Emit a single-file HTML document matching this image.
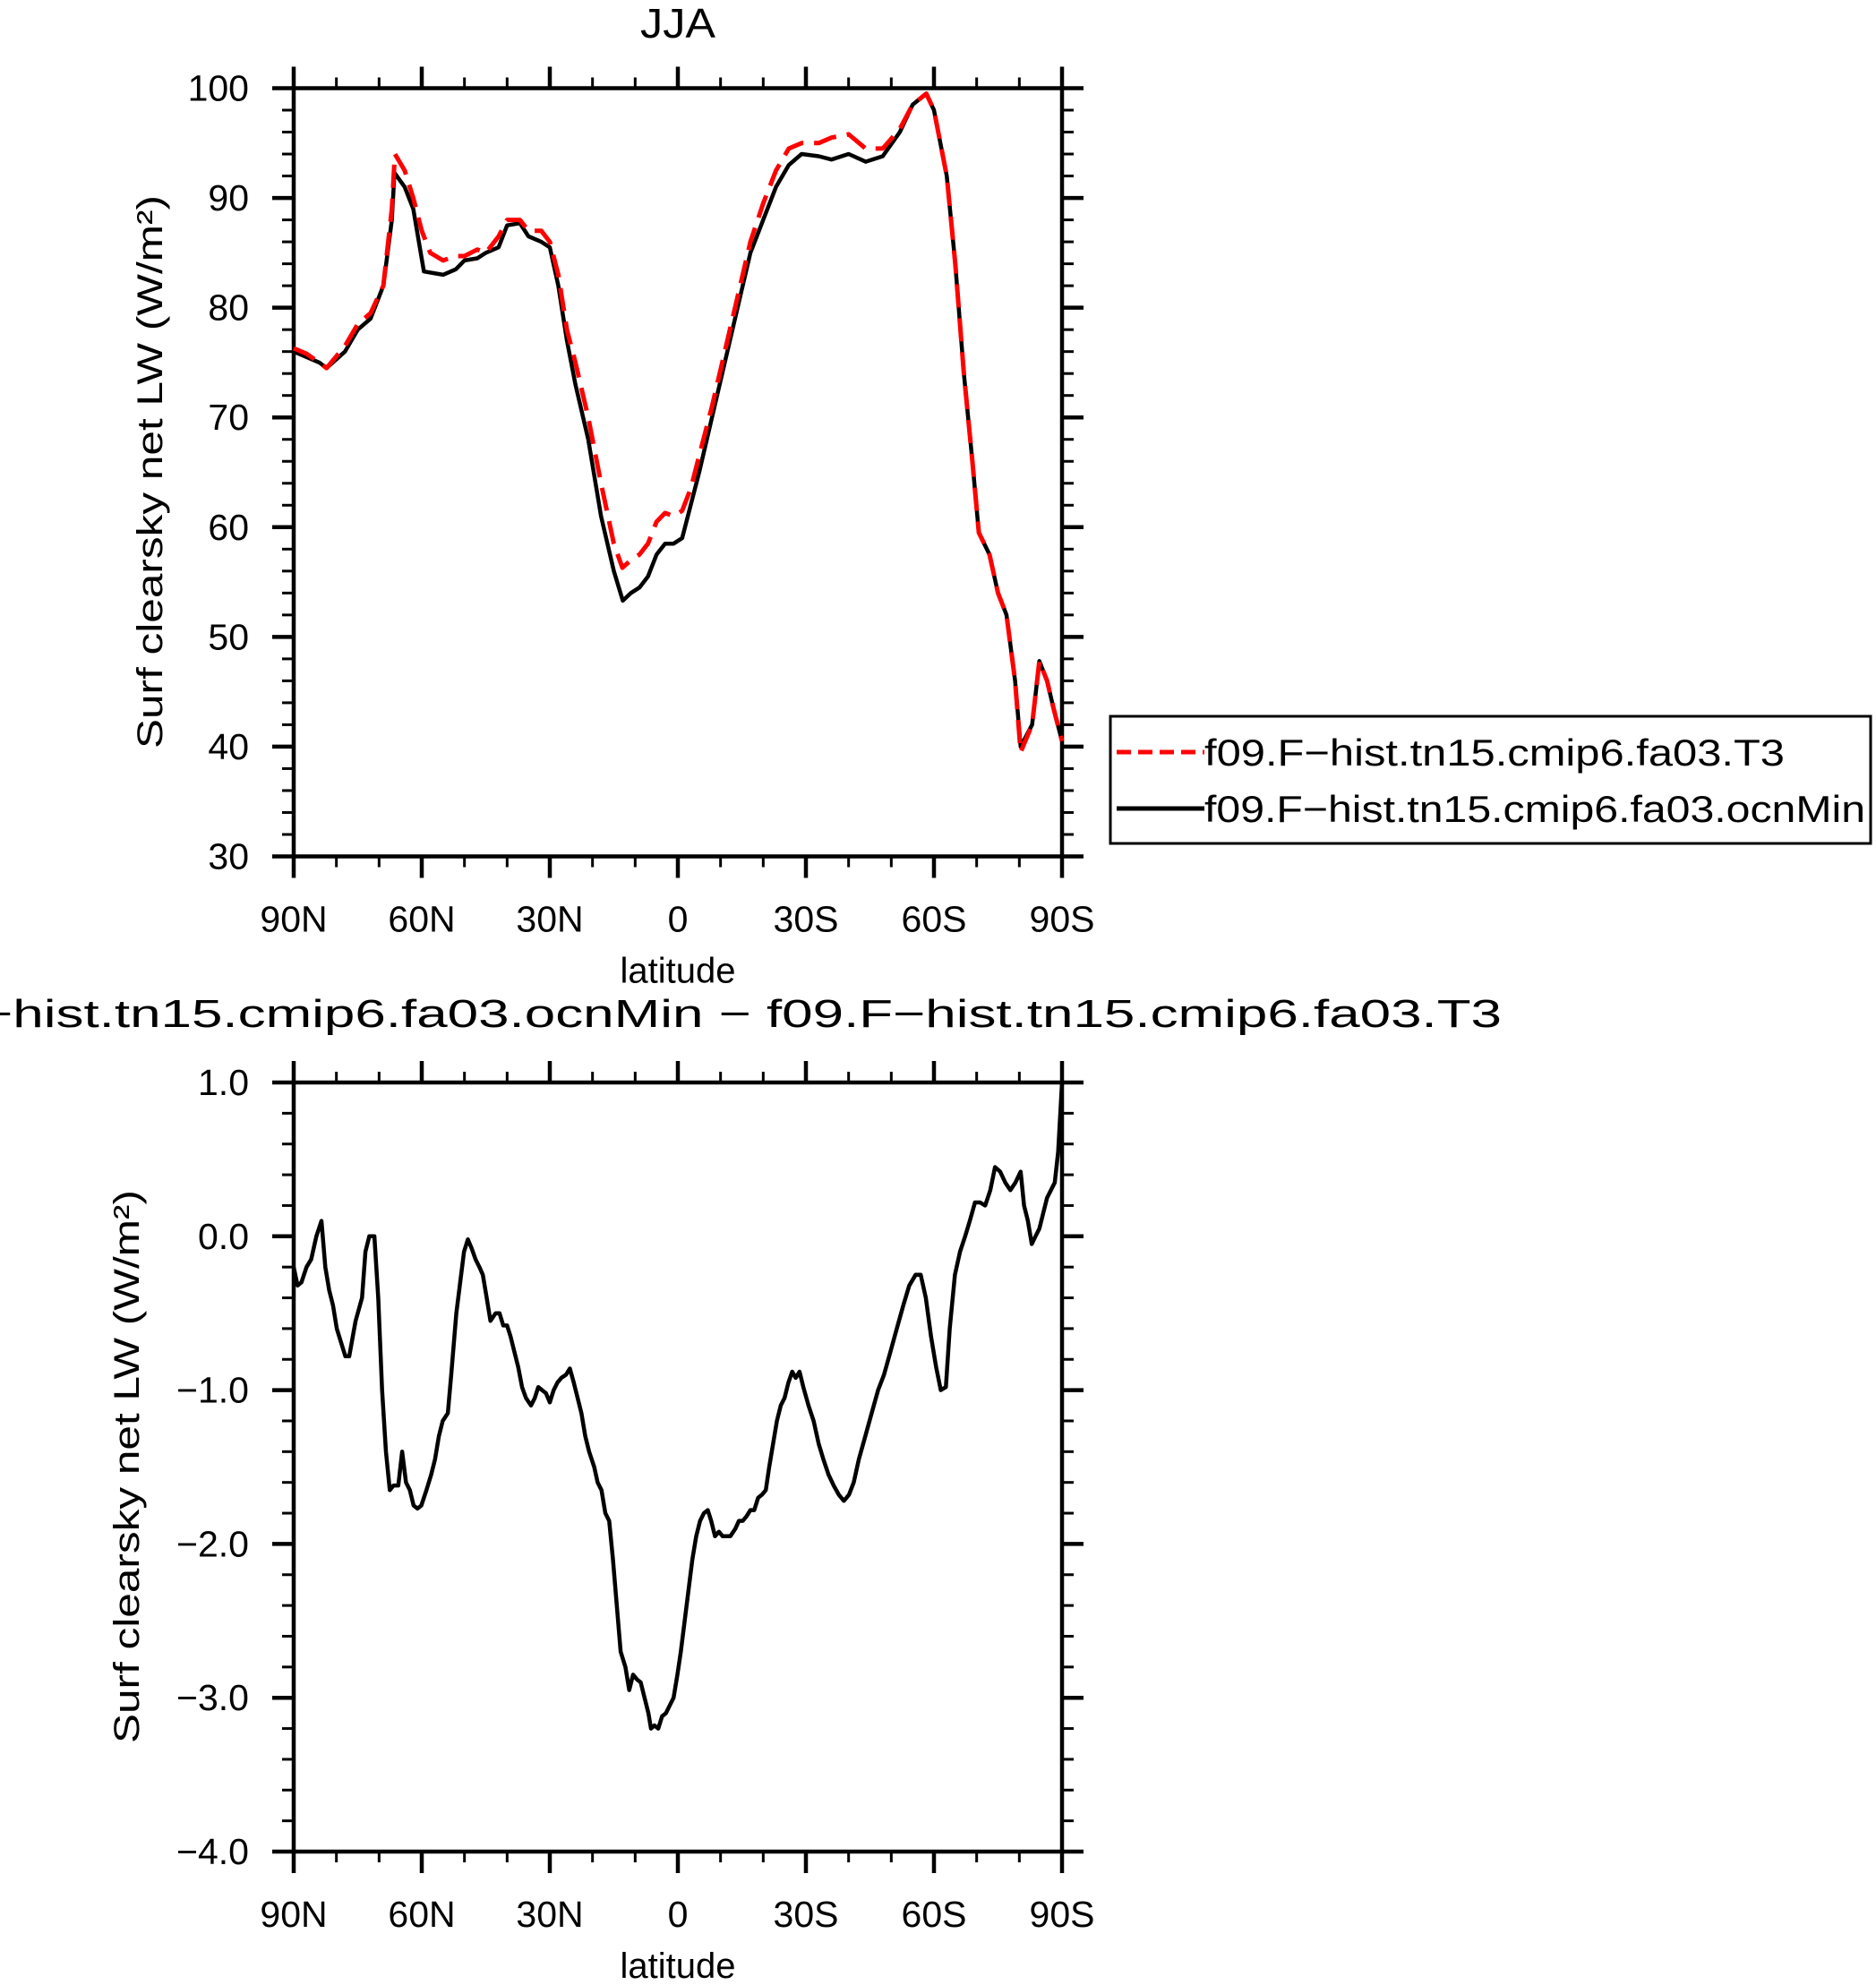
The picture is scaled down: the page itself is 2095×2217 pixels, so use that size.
<!DOCTYPE html>
<html><head><meta charset="utf-8"><style>
html,body{margin:0;padding:0;background:#fff;}
svg text{font-family:"Liberation Sans",sans-serif;fill:#000;}
</style></head><body>
<svg id="chart" width="2095" height="2212" viewBox="0 0 2095 2212" xmlns="http://www.w3.org/2000/svg">
<g id="top"></g>
<g id="bot"></g>
</svg>
<script>
// ---- data ----
const latsBlack = [90,87,84,82.3,78,75,72,69,67,66.4,64,62,59.5,55,52,50,47,45,42,40,37,35,32,30,28,26,24,21,18,15,12.9,11,9,7,5,3,1,-1,-3,-5,-8,-11,-14,-17,-20,-23,-26,-29,-33,-36,-40,-44,-48,-52,-55,-58.2,-60,-63,-65,-67,-69,-70.5,-73,-75,-77,-79,-80.3,-83,-84.7,-86.5,-88,-90];
const valsBlack = [76,75.5,75,74.5,76,78,79,82,88,92.3,91,89,83.3,83,83.5,84.3,84.5,85,85.5,87.5,87.7,86.5,86,85.5,82,77,73,68,61,56,53.3,54,54.5,55.5,57.5,58.5,58.5,59,62,65,70,75,80,85,88,91,93,94,93.8,93.5,94,93.3,93.8,96,98.5,99.5,98,92,84,74,66,59.5,57.5,54,52,46,40,42,47.8,46,43.5,40.5];
const latsRed = [90,87,84,82.3,78,75,72,69,67,66.3,64,62,60,58,55,52,50,47,45,42,40,37,35,32,30,28,26,24,21,18,15,13,11,9,7,5,3,1,-1,-3,-5,-8,-11,-14,-17,-20,-23,-26,-29,-33,-36,-40,-44,-48,-52,-55,-58.2,-60,-63,-65,-67,-69,-70.5,-73,-75,-77,-79,-80.3,-83,-84.7,-86.5,-88,-90];
const valsRed = [76.3,75.8,75,74.5,76.5,78.5,79.5,82,89,94,92.5,90,87,85,84.3,84.7,84.7,85.3,85,86.5,88,88,87,87,86,83,78,75,70,64,58.5,56.3,57,57.5,58.5,60.5,61.3,61,61.5,63.5,66.5,71,76,81,86,89.5,92.5,94.5,95,95,95.5,95.8,94.5,94.5,96.3,98.5,99.5,98,92,84,74,66,59.5,57.5,54,52,46,39.5,42,47.8,46,43.5,40.5];
const latsDiff = [90,89.1,88.2,87,85.9,84.7,83.5,82.6,81.7,80.8,79.9,78.8,77.9,77,75.5,74,73.2,72.3,71.1,70.2,69.3,68.4,67.5,66.6,65.5,64.6,63.7,62.8,61.9,61,60.1,58.9,57.8,56.9,56,55.1,53.9,53.1,51.9,51,50.1,49.2,48.3,47.4,46.5,45.7,44.8,43.9,42.7,41.8,40.9,40,39.2,38.3,37.4,36.5,35.6,34.4,33.5,32.7,31.8,30.9,30,29.1,28.2,27.3,26.2,25.3,24.4,23.5,22.6,21.7,20.8,19.6,18.8,17.9,17,16.1,15.2,14.3,13.4,12.3,11.4,10.5,9.6,8.7,7.8,6.9,6.3,5.5,4.6,3.7,2.8,1.9,1,0.1,-0.7,-1.6,-2.5,-3.4,-4.3,-5.2,-6.1,-7,-7.8,-8.7,-9.6,-10.5,-11.4,-12.3,-13.5,-14.3,-15.2,-16.1,-17,-17.9,-18.8,-19.7,-20.6,-21.4,-22.3,-23.2,-24.1,-25,-25.9,-26.8,-27.6,-28.5,-29.4,-30.6,-31.8,-33,-34.1,-35.3,-36.5,-37.7,-38.9,-40.1,-41.2,-42.4,-43.9,-45.4,-46.9,-48.3,-49.8,-51.3,-52.8,-54.2,-55.7,-56.9,-58.1,-59.3,-60.5,-61.6,-62.8,-63.7,-64.9,-66.1,-67.3,-68.4,-69.6,-70.8,-72,-73.2,-74.3,-75.5,-76.7,-77.9,-79.1,-80.3,-81.1,-82,-82.9,-83.8,-84.7,-85.6,-86.5,-87.4,-88.3,-89.1,-90];
const valsDiff = [-0.2,-0.32,-0.3,-0.2,-0.15,0,0.1,-0.2,-0.35,-0.45,-0.6,-0.7,-0.78,-0.78,-0.55,-0.4,-0.1,0,0,-0.4,-1,-1.4,-1.65,-1.62,-1.62,-1.4,-1.6,-1.65,-1.75,-1.77,-1.75,-1.65,-1.55,-1.45,-1.3,-1.2,-1.15,-0.9,-0.5,-0.3,-0.1,-0.02,-0.08,-0.15,-0.2,-0.25,-0.4,-0.55,-0.5,-0.5,-0.58,-0.58,-0.65,-0.75,-0.85,-0.98,-1.05,-1.1,-1.05,-0.98,-1,-1.02,-1.08,-1,-0.95,-0.92,-0.9,-0.86,-0.95,-1.05,-1.15,-1.3,-1.4,-1.5,-1.6,-1.65,-1.8,-1.85,-2.1,-2.4,-2.7,-2.8,-2.95,-2.85,-2.88,-2.9,-3,-3.1,-3.2,-3.18,-3.2,-3.12,-3.1,-3.05,-3,-2.85,-2.7,-2.5,-2.3,-2.1,-1.95,-1.85,-1.8,-1.78,-1.85,-1.95,-1.92,-1.95,-1.95,-1.95,-1.9,-1.85,-1.85,-1.82,-1.78,-1.78,-1.7,-1.68,-1.65,-1.5,-1.35,-1.2,-1.1,-1.05,-0.95,-0.88,-0.92,-0.88,-0.98,-1.1,-1.2,-1.35,-1.45,-1.55,-1.62,-1.68,-1.72,-1.68,-1.6,-1.45,-1.3,-1.15,-1,-0.9,-0.75,-0.6,-0.45,-0.32,-0.25,-0.25,-0.4,-0.65,-0.85,-1,-0.98,-0.6,-0.25,-0.1,0,0.1,0.22,0.22,0.2,0.3,0.45,0.42,0.35,0.3,0.35,0.42,0.2,0.1,-0.05,0,0.05,0.15,0.25,0.3,0.35,0.55,1];
const xTickLats = [90,60,30,0,-30,-60,-90];
const xTickLabels = ["90N","60N","30N","0","30S","60S","90S"];
const topYTicks = [30,40,50,60,70,80,90,100];
const botYTicks = [-4,-3,-2,-1,0,1];
const botYLabels = ["\u22124.0","\u22123.0","\u22122.0","\u22121.0","0.0","1.0"];

// ---- drawing ----
const NS = "http://www.w3.org/2000/svg";
const X0 = 328, X1 = 1186;
function xScale(lat){ return X0 + (90 - lat) / 180 * (X1 - X0); }
function mk(parent, tag, attrs, text){
  const e = document.createElementNS(NS, tag);
  for (const k in attrs) e.setAttribute(k, attrs[k]);
  if (text !== undefined) e.textContent = text;
  parent.appendChild(e);
  return e;
}
function drawPanel(g, yTop, yBot, vMin, vMax, yTicks, yLabels, minorStep, prefix){
  const yScale = v => yBot - (v - vMin) / (vMax - vMin) * (yBot - yTop);
  for (let v = vMin; v <= vMax + 1e-9; v += minorStep){
    const y = yScale(v);
    const t1 = mk(g, "line", {x1:X0-13, x2:X0, y1:y, y2:y, stroke:"#000","stroke-width":3});
    
    
    const t2 = mk(g, "line", {x1:X1, x2:X1+13, y1:y, y2:y, stroke:"#000","stroke-width":3});
    
    
  }
  for (let lat = 90; lat >= -90; lat -= 10){
    const x = xScale(lat);
    const a = mk(g, "line", {x1:x, x2:x, y1:yTop-12, y2:yTop, stroke:"#000","stroke-width":3});
    
    
    const b = mk(g, "line", {x1:x, x2:x, y1:yBot, y2:yBot+12, stroke:"#000","stroke-width":3});
    
    
  }
  yTicks.forEach((v, i) => {
    const y = yScale(v);
    const t = mk(g, "line", {x1:X0-24, x2:X0, y1:y, y2:y, stroke:"#000","stroke-width":4.5});
    
    
    const r = mk(g, "line", {x1:X1, x2:X1+24, y1:y, y2:y, stroke:"#000","stroke-width":4.5});
    
    
    const l = mk(g, "text", {x:278, y:y+14, "text-anchor":"end","font-size":41}, yLabels[i]);
    
    
  });
  xTickLats.forEach((lat, i) => {
    const x = xScale(lat);
    const a = mk(g, "line", {x1:x, x2:x, y1:yTop-24, y2:yTop, stroke:"#000","stroke-width":4.5});
    
    
    const b = mk(g, "line", {x1:x, x2:x, y1:yBot, y2:yBot+24, stroke:"#000","stroke-width":4.5});
    
    
    const l = mk(g, "text", {x:x, y:yBot+84, "text-anchor":"middle","font-size":41}, xTickLabels[i]);
    
    
  });
  const fr = mk(g, "rect", {x:X0, y:yTop, width:X1-X0, height:yBot-yTop, fill:"none", stroke:"#000","stroke-width":4.5});
  
  
  const xt = mk(g, "text", {x:(X0+X1)/2, y:yBot+141, "text-anchor":"middle","font-size":40}, "latitude");
  
  
  return yScale;
}
function pathD(lats, vals, ys){
  return lats.map((l, i) => (i ? "L" : "M") + xScale(l).toFixed(1) + "," + ys(vals[i]).toFixed(1)).join(" ");
}
const gt = document.getElementById("top");
const ysTop = drawPanel(gt, 98.5, 956.5, 30, 100, topYTicks, topYTicks.map(String), 2, "top");
const pb = mk(gt, "path", {d:pathD(latsBlack, valsBlack, ysTop), fill:"none", stroke:"#000","stroke-width":4.5,"stroke-linejoin":"round"});


const pr = mk(gt, "path", {d:pathD(latsRed, valsRed, ysTop), fill:"none", stroke:"#ff0000","stroke-width":5,"stroke-dasharray":"26,12","stroke-linejoin":"round"});


const gb = document.getElementById("bot");
const ysBot = drawPanel(gb, 1209, 2068, -4, 1, botYTicks, botYLabels, 0.2, "bottom");
const pd = mk(gb, "path", {d:pathD(latsDiff, valsDiff, ysBot), fill:"none", stroke:"#000","stroke-width":4.5,"stroke-linejoin":"round"});


</script>
<script>
const svg = document.getElementById("chart");
function addT(attrs, text){
  const e = document.createElementNS("http://www.w3.org/2000/svg", "text");
  for (const k in attrs) e.setAttribute(k, attrs[k]);
  e.textContent = text;
  svg.appendChild(e);
  return e;
}
const t1 = addT({x:757, y:42, "text-anchor":"middle", "font-size":46, textLength:84, lengthAdjust:"spacingAndGlyphs"}, "JJA");


const t2 = addT({x:757, y:1147, "text-anchor":"middle", "font-size":44, textLength:1840, lengthAdjust:"spacingAndGlyphs"}, "f09.F\u2212hist.tn15.cmip6.fa03.ocnMin  \u2212  f09.F\u2212hist.tn15.cmip6.fa03.T3");


const t3 = addT({x:0, y:0, "text-anchor":"middle", "font-size":40, transform:"translate(181,527) rotate(-90)", textLength:618, lengthAdjust:"spacingAndGlyphs"}, "Surf clearsky net LW (W/m\u00B2)");


const t4 = addT({x:0, y:0, "text-anchor":"middle", "font-size":40, transform:"translate(155,1638) rotate(-90)", textLength:618, lengthAdjust:"spacingAndGlyphs"}, "Surf clearsky net LW (W/m\u00B2)");


const NSL = "http://www.w3.org/2000/svg";
const lg = document.createElementNS(NSL, "g");


svg.appendChild(lg);
const box = document.createElementNS(NSL, "rect");
box.setAttribute("x", 1240); box.setAttribute("y", 800); box.setAttribute("width", 849); box.setAttribute("height", 142);
box.setAttribute("fill", "#fff"); box.setAttribute("stroke", "#000"); box.setAttribute("stroke-width", 3);


lg.appendChild(box);
const entries = [["#ff0000","16,8","f09.F\u2212hist.tn15.cmip6.fa03.T3",840,648],["#000","", "f09.F\u2212hist.tn15.cmip6.fa03.ocnMin",903,738]];
entries.forEach(en => {
  const ln = document.createElementNS(NSL, "line");
  ln.setAttribute("x1", 1247); ln.setAttribute("x2", 1345); ln.setAttribute("y1", en[3]); ln.setAttribute("y2", en[3]);
  ln.setAttribute("stroke", en[0]); ln.setAttribute("stroke-width", 5);
  if (en[1]) ln.setAttribute("stroke-dasharray", en[1]);
  
  
  lg.appendChild(ln);
  const tx = document.createElementNS(NSL, "text");
  tx.setAttribute("x", 1345); tx.setAttribute("y", en[3] + 15); tx.setAttribute("font-size", 42);
  tx.setAttribute("textLength", en[4]); tx.setAttribute("lengthAdjust", "spacingAndGlyphs");
  tx.textContent = en[2];
  
  
  lg.appendChild(tx);
});
</script>
</body></html>
